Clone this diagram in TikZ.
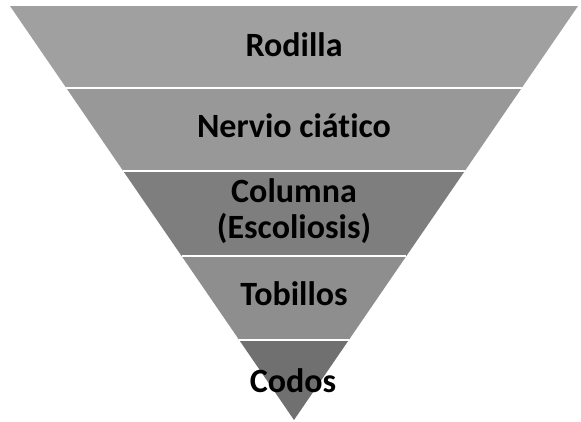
\documentclass[tikz,border=0pt]{standalone}
\usepackage{fontspec}
\setmainfont[Ligatures=NoCommon]{Carlito}
\begin{document}
\begin{tikzpicture}[x=1pt,y=-1pt,
  lbl/.style={font=\bfseries\fontsize{34}{36}\selectfont, text=black, anchor=base, inner sep=0pt, align=center},
  sep/.style={draw=white, line width=2.5pt}]
\useasboundingbox (0,0) rectangle (581,421);
% corners of the inverted triangle
\coordinate (TL) at (10,6);
\coordinate (TR) at (578,6);
\coordinate (AP) at (294,420);
\coordinate (L1) at (66.3,88);   \coordinate (R1) at (521.7,88);
\coordinate (L2) at (123.2,171); \coordinate (R2) at (464.8,171);
\coordinate (L3) at (181.6,256); \coordinate (R3) at (406.4,256);
\coordinate (L4) at (239.2,340); \coordinate (R4) at (348.8,340);
% bands
\fill[fill={rgb,255:red,160;green,160;blue,160}] (TL) -- (TR) -- (R1) -- (L1) -- cycle;
\fill[fill={rgb,255:red,152;green,152;blue,152}] (L1) -- (R1) -- (R2) -- (L2) -- cycle;
\fill[fill={rgb,255:red,126;green,126;blue,126}] (L2) -- (R2) -- (R3) -- (L3) -- cycle;
\fill[fill={rgb,255:red,142;green,142;blue,142}] (L3) -- (R3) -- (R4) -- (L4) -- cycle;
\fill[fill={rgb,255:red,112;green,112;blue,112}] (L4) -- (R4) -- (AP) -- cycle;
% separators
\draw[sep] (L1) -- (R1);
\draw[sep] (L2) -- (R2);
\draw[sep] (L3) -- (R3);
\draw[sep] (L4) -- (R4);
% labels
\node[lbl] (rodilla) at (294,56) {Rodilla};
\node[lbl] (nervio) at (294,137) {Nervio ciático};
\node[lbl] (columna) at (294,202) {Columna};
\node[lbl] (escol) at (294,238) {(Escoliosis)};
\node[lbl] (tobillos) at (294,305) {Tobillos};
\node[lbl] (codos) at (293,392) {Codos};
\end{tikzpicture}
\end{document}
